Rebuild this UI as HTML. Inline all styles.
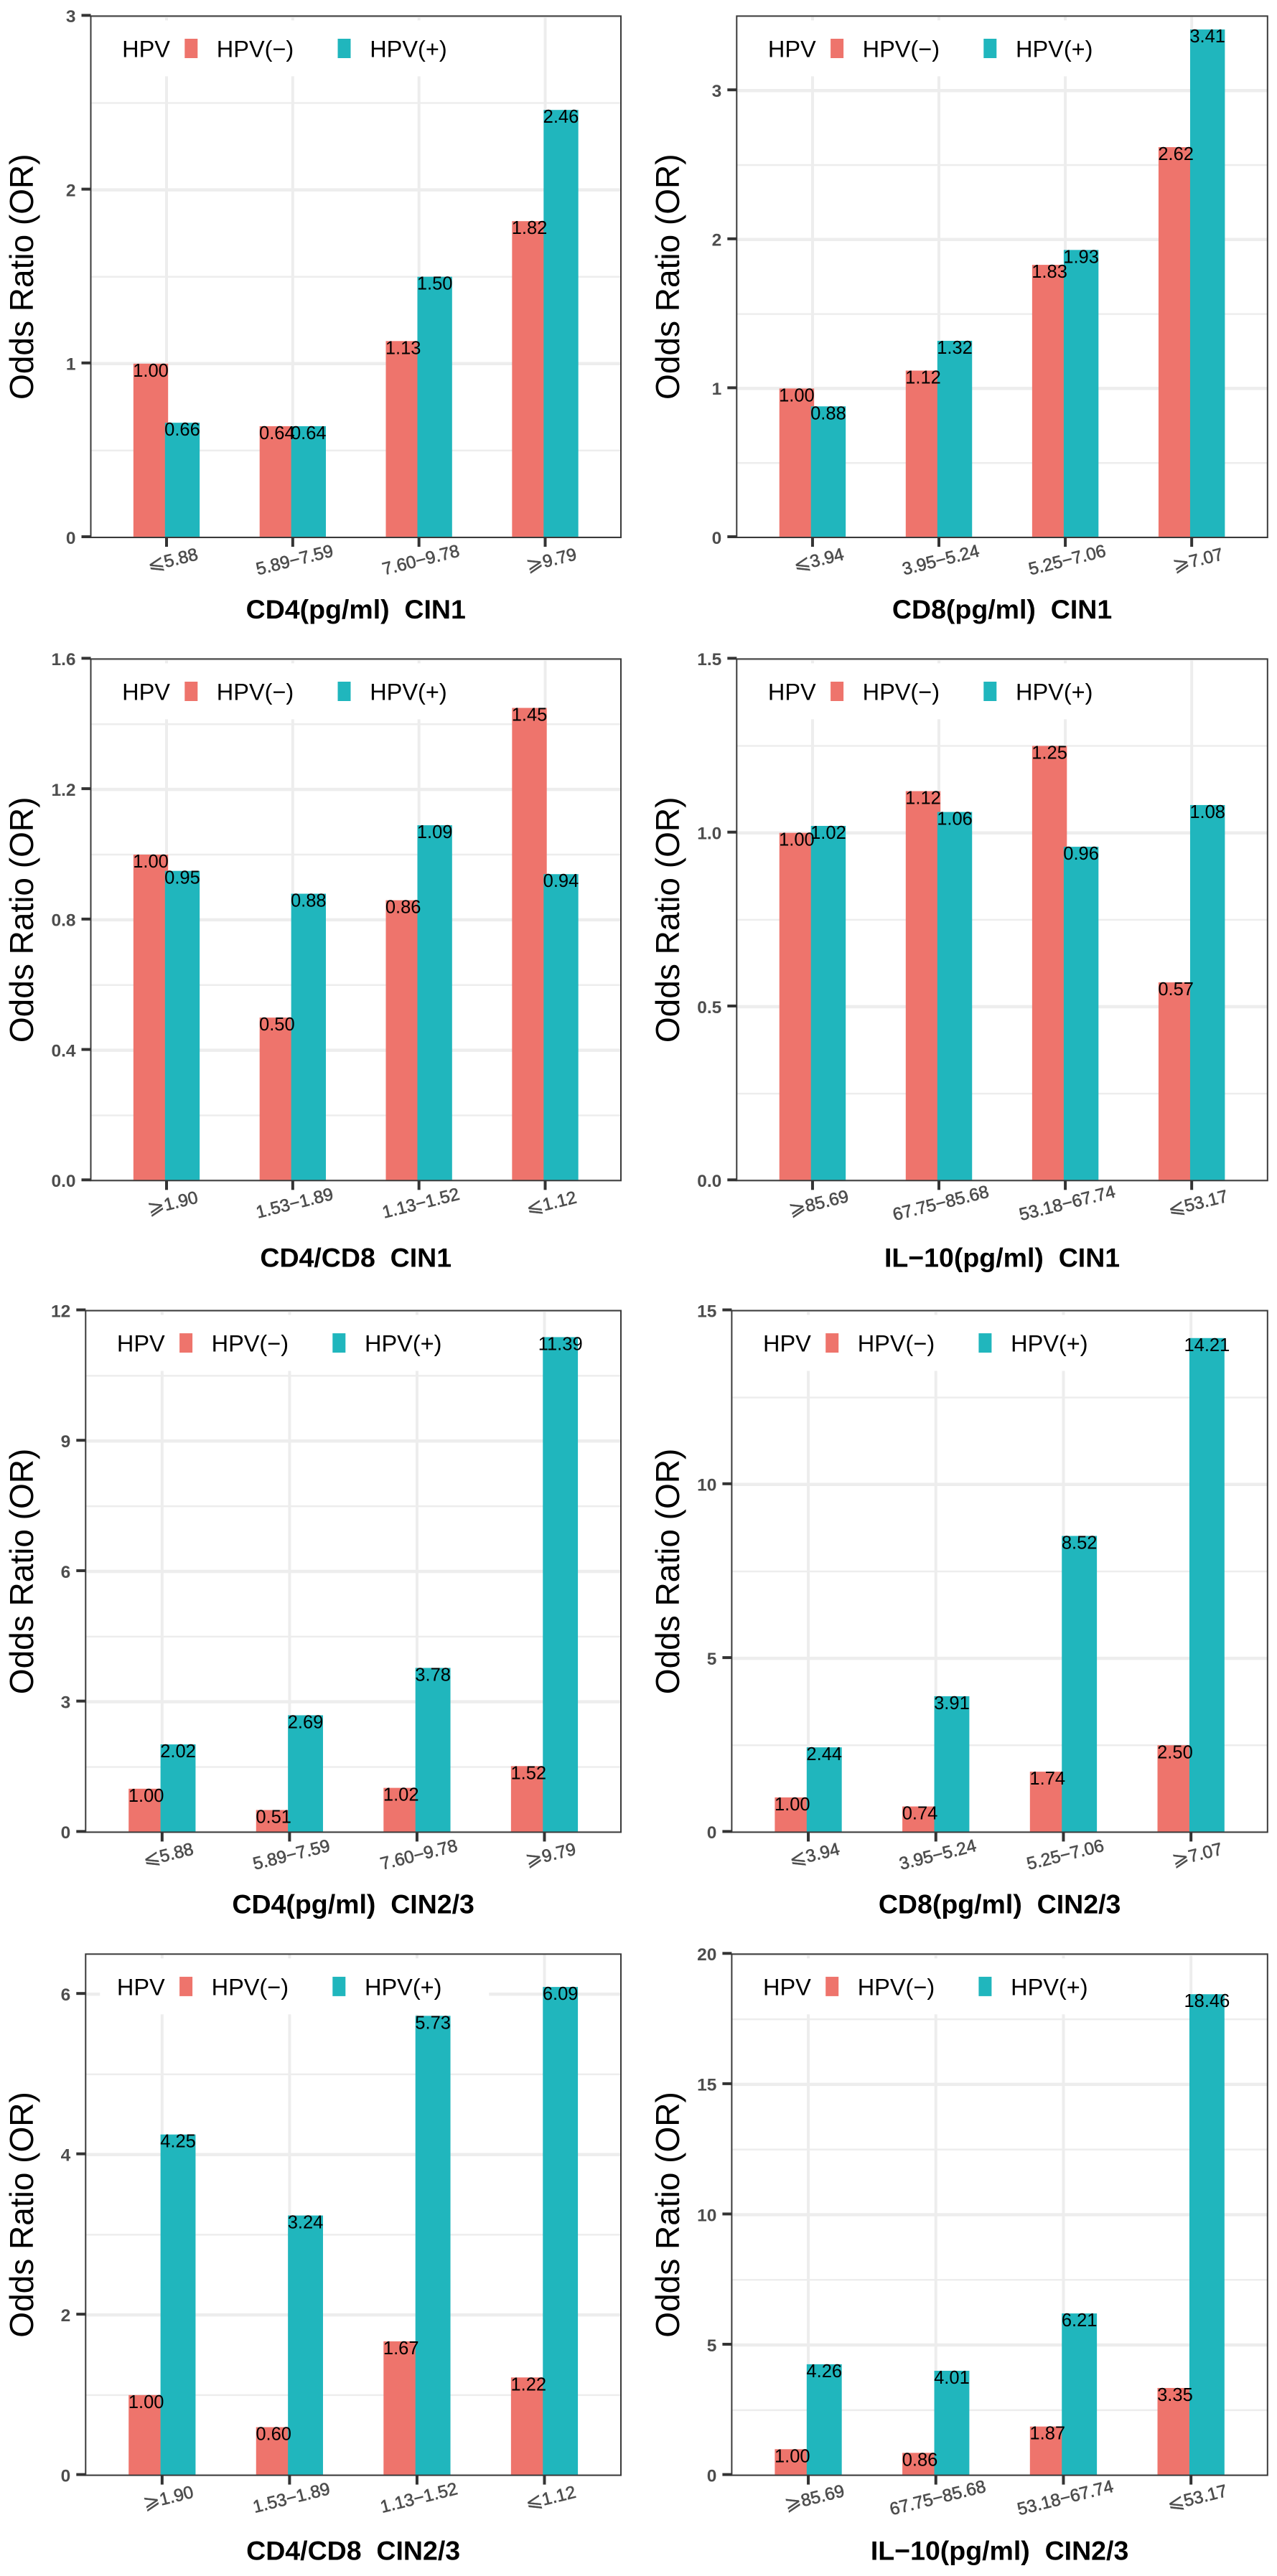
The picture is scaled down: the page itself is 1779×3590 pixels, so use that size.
<!DOCTYPE html>
<html lang="en">
<head>
<meta charset="utf-8">
<title>Odds ratios by cytokine level and HPV status</title>
<style>
html,body{margin:0;padding:0;background:#fff;}
body{width:1779px;height:3590px;overflow:hidden;}
svg{display:block;font-family:"Liberation Sans","DejaVu Sans",sans-serif;}
</style>
</head>
<body>
<svg id="figure" xmlns="http://www.w3.org/2000/svg" width="1779" height="3590" viewBox="0 0 1779 3590"></svg>
<script>
// ---- chart data ----
const categoriesCd4 = ['⩽5.88', '5.89−7.59', '7.60−9.78', '⩾9.79'];
const categoriesCd8 = ['⩽3.94', '3.95−5.24', '5.25−7.06', '⩾7.07'];
const categoriesRatio = ['⩾1.90', '1.53−1.89', '1.13−1.52', '⩽1.12'];
const categoriesIl10 = ['⩾85.69', '67.75−85.68', '53.18−67.74', '⩽53.17'];

const negCd4Cin1 = [1.00, 0.64, 1.13, 1.82];
const posCd4Cin1 = [0.66, 0.64, 1.50, 2.46];
const negCd8Cin1 = [1.00, 1.12, 1.83, 2.62];
const posCd8Cin1 = [0.88, 1.32, 1.93, 3.41];
const negRatioCin1 = [1.00, 0.50, 0.86, 1.45];
const posRatioCin1 = [0.95, 0.88, 1.09, 0.94];
const negIl10Cin1 = [1.00, 1.12, 1.25, 0.57];
const posIl10Cin1 = [1.02, 1.06, 0.96, 1.08];
const negCd4Cin23 = [1.00, 0.51, 1.02, 1.52];
const posCd4Cin23 = [2.02, 2.69, 3.78, 11.39];
const negCd8Cin23 = [1.00, 0.74, 1.74, 2.50];
const posCd8Cin23 = [2.44, 3.91, 8.52, 14.21];
const negRatioCin23 = [1.00, 0.60, 1.67, 1.22];
const posRatioCin23 = [4.25, 3.24, 5.73, 6.09];
const negIl10Cin23 = [1.00, 0.86, 1.87, 3.35];
const posIl10Cin23 = [4.26, 4.01, 6.21, 18.46];

const ticksCd4Cin1 = ['0', '1', '2', '3'];
const ticksCd8Cin1 = ['0', '1', '2', '3'];
const ticksRatioCin1 = ['0.0', '0.4', '0.8', '1.2', '1.6'];
const ticksIl10Cin1 = ['0.0', '0.5', '1.0', '1.5'];
const ticksCd4Cin23 = ['0', '3', '6', '9', '12'];
const ticksCd8Cin23 = ['0', '5', '10', '15'];
const ticksRatioCin23 = ['0', '2', '4', '6'];
const ticksIl10Cin23 = ['0', '5', '10', '15', '20'];

const axisMaxima = [3, 3.5, 1.6, 1.5, 12, 15, 6.5, 20];
const xTitles = ['CD4(pg/ml)  CIN1', 'CD8(pg/ml)  CIN1', 'CD4/CD8  CIN1', 'IL−10(pg/ml)  CIN1',
                 'CD4(pg/ml)  CIN2/3', 'CD8(pg/ml)  CIN2/3', 'CD4/CD8  CIN2/3', 'IL−10(pg/ml)  CIN2/3'];
const panelCategories = [categoriesCd4, categoriesCd8, categoriesRatio, categoriesIl10,
                         categoriesCd4, categoriesCd8, categoriesRatio, categoriesIl10];
const panelNeg = [negCd4Cin1, negCd8Cin1, negRatioCin1, negIl10Cin1, negCd4Cin23, negCd8Cin23, negRatioCin23, negIl10Cin23];
const panelPos = [posCd4Cin1, posCd8Cin1, posRatioCin1, posIl10Cin1, posCd4Cin23, posCd8Cin23, posRatioCin23, posIl10Cin23];
const panelTicks = [ticksCd4Cin1, ticksCd8Cin1, ticksRatioCin1, ticksIl10Cin1, ticksCd4Cin23, ticksCd8Cin23, ticksRatioCin23, ticksIl10Cin23];
const legendTitle = 'HPV';
const seriesNames = ['HPV(−)', 'HPV(+)'];
const yAxisTitle = 'Odds Ratio (OR)';

// ---- page layout (not data) ----
const rowTop = [22.4, 918.4, 1826.5, 2723.3];
const rowBottom = [749, 1645.3, 2553.4, 3449.6];
const rowTitleGap = [113, 120, 113, 118];
const rowLeft = [[126.5, 1026.3], [126.5, 1026.3], [119.3, 1019.4], [119.3, 1019.4]];
const colRight = [865, 1765.8];
const colYTitleX = [46, 946];

// ---- styles ----
const RED = '#EE746C';
const TEAL = '#20B6BD';
const GRID = '#EDEDED';
const DARK = '#3A3A3A';
const AXIS_TEXT = '#4D4D4D';
const SVG_NS = 'http://www.w3.org/2000/svg';

const figure = document.getElementById('figure');

function make(parent, tag, attrs, text) {
  const node = document.createElementNS(SVG_NS, tag);
  for (const key in attrs) node.setAttribute(key, attrs[key]);
  if (text !== undefined) {
    node.style.whiteSpace = 'pre';
    node.textContent = text;
  }
  parent.appendChild(node);
  return node;
}

function drawPanel(index) {
  const row = Math.floor(index / 2);
  const col = index % 2;
  const left = rowLeft[row][col];
  const right = colRight[col];
  const top = rowTop[row];
  const bottom = rowBottom[row];
  const maxValue = axisMaxima[index];
  const categories = panelCategories[index];
  const negValues = panelNeg[index];
  const posValues = panelPos[index];
  const ticks = panelTicks[index];

  // axis functions: discrete x with 0.6 unit expansion, linear y
  const xScale = function (position) {
    return left + (position + 0.6) * (right - left) / (categories.length - 1 + 1.2);
  };
  const yScale = function (value) {
    return bottom - value / maxValue * (bottom - top);
  };
  const unit = (right - left) / (categories.length - 1 + 1.2);
  const barWidth = 0.275 * unit;
  const dodge = 0.125 * unit;

  const group = make(figure, 'g', {});
  
  

  const clipId = 'panel-clip-' + index;
  const defs = make(group, 'defs', {});
  const clip = make(defs, 'clipPath', { id: clipId });
  make(clip, 'rect', { x: left, y: top, width: right - left, height: bottom - top });

  const plot = make(group, 'g', { 'clip-path': 'url(#' + clipId + ')' });
  
  

  // minor gridlines at tick midpoints
  const tickValues = ticks.map(Number);
  const tickStep = tickValues[1] - tickValues[0];
  for (let v = tickValues[0] + tickStep / 2; v <= maxValue + 1e-9; v += tickStep) {
    const minor = make(plot, 'line', { x1: left, x2: right, y1: yScale(v), y2: yScale(v), stroke: GRID, 'stroke-width': 2.5 });
    
    
  }
  // major gridlines
  tickValues.forEach(function (v) {
    const major = make(plot, 'line', { x1: left, x2: right, y1: yScale(v), y2: yScale(v), stroke: GRID, 'stroke-width': 4.5 });
    
    
  });
  categories.forEach(function (c, i) {
    const vertical = make(plot, 'line', { x1: xScale(i), x2: xScale(i), y1: top, y2: bottom, stroke: GRID, 'stroke-width': 4 });
    
    
  });

  // bars (red first, teal drawn over it)
  negValues.forEach(function (v, i) {
    const bar = make(plot, 'rect', {
      x: xScale(i) - dodge - barWidth / 2, y: yScale(v), width: barWidth, height: bottom - yScale(v), fill: RED
    });
    
    
  });
  posValues.forEach(function (v, i) {
    const bar = make(plot, 'rect', {
      x: xScale(i) + dodge - barWidth / 2, y: yScale(v), width: barWidth, height: bottom - yScale(v), fill: TEAL
    });
    
    
  });
  // value labels
  negValues.forEach(function (v, i) {
    const label = make(group, 'text', {
      x: xScale(i) - dodge, y: yScale(v) + 18, 'text-anchor': 'middle', 'font-size': 25.5, fill: '#000'
    }, v.toFixed(2));
    
    
  });
  posValues.forEach(function (v, i) {
    const label = make(group, 'text', {
      x: xScale(i) + dodge, y: yScale(v) + 18, 'text-anchor': 'middle', 'font-size': 25.5, fill: '#000'
    }, v.toFixed(2));
    
    
  });

  // legend
  const legend = make(group, 'g', {});
  
  
  const legendBox = make(legend, 'rect', { x: left + 20, y: top + 6, width: 542, height: 78, fill: '#fff' });
  
  
  const legendHead = make(legend, 'text', { x: left + 43.6, y: top + 57, 'font-size': 32.5, fill: '#000' }, legendTitle);
  
  
  const swatchNeg = make(legend, 'rect', { x: left + 130.8, y: top + 31.6, width: 18, height: 27, fill: RED });
  
  
  const entryNeg = make(legend, 'text', { x: left + 175.3, y: top + 57, 'font-size': 32.5, fill: '#000' }, seriesNames[0]);
  
  
  const swatchPos = make(legend, 'rect', { x: left + 344, y: top + 31.6, width: 18, height: 27, fill: TEAL });
  
  
  const entryPos = make(legend, 'text', { x: left + 388.7, y: top + 57, 'font-size': 32.5, fill: '#000' }, seriesNames[1]);
  
  

  // panel border
  const border = make(group, 'rect', { x: left, y: top, width: right - left, height: bottom - top, fill: 'none', stroke: DARK, 'stroke-width': 2 });
  
  

  // y axis ticks + labels
  ticks.forEach(function (t) {
    const y = yScale(Number(t));
    const tick = make(group, 'line', { x1: left - 13, x2: left, y1: y - 1, y2: y - 1, stroke: '#333', 'stroke-width': 4 });
    
    
    const label = make(group, 'text', {
      x: left - 21, y: y + 8.8, 'text-anchor': 'end', 'font-size': 24.5, 'font-weight': 'bold', fill: AXIS_TEXT
    }, t);
    
    
  });

  // x axis ticks + rotated labels
  categories.forEach(function (c, i) {
    const x = xScale(i);
    const tick = make(group, 'line', { x1: x, x2: x, y1: bottom, y2: bottom + 13, stroke: '#333', 'stroke-width': 4 });
    
    
    const isOpenEnded = c.charAt(0) === '⩽' || c.charAt(0) === '⩾';
    const lx = x + (isOpenEnded ? 8.5 : 2.5);
    const ly = bottom + 31;
    const label = make(group, 'text', {
      x: lx, y: ly + 8.5, 'text-anchor': 'middle', 'font-size': 24.5, fill: AXIS_TEXT,
      stroke: AXIS_TEXT, 'stroke-width': 0.6,
      transform: 'rotate(-14 ' + lx + ' ' + ly + ')'
    });
    if (isOpenEnded) {
      make(label, 'tspan', { 'font-size': 28, 'stroke-width': 0.2 }, c.charAt(0));
      make(label, 'tspan', {}, c.slice(1));
    } else {
      label.textContent = c;
    }
    
    
  });

  // axis titles
  const centerY = (top + bottom) / 2;
  const titleX = colYTitleX[col];
  const yTitle = make(group, 'text', {
    x: titleX, y: centerY, 'text-anchor': 'middle', 'font-size': 46, fill: '#000',
    transform: 'rotate(-90 ' + titleX + ' ' + centerY + ')'
  }, yAxisTitle);
  
  
  const xTitle = make(group, 'text', {
    x: (left + right) / 2, y: bottom + rowTitleGap[row], 'text-anchor': 'middle', 'font-size': 37.5, 'font-weight': 'bold', fill: '#000'
  }, xTitles[index]);
  
  
}

for (let p = 0; p < xTitles.length; p++) drawPanel(p);
</script>
</body>
</html>
